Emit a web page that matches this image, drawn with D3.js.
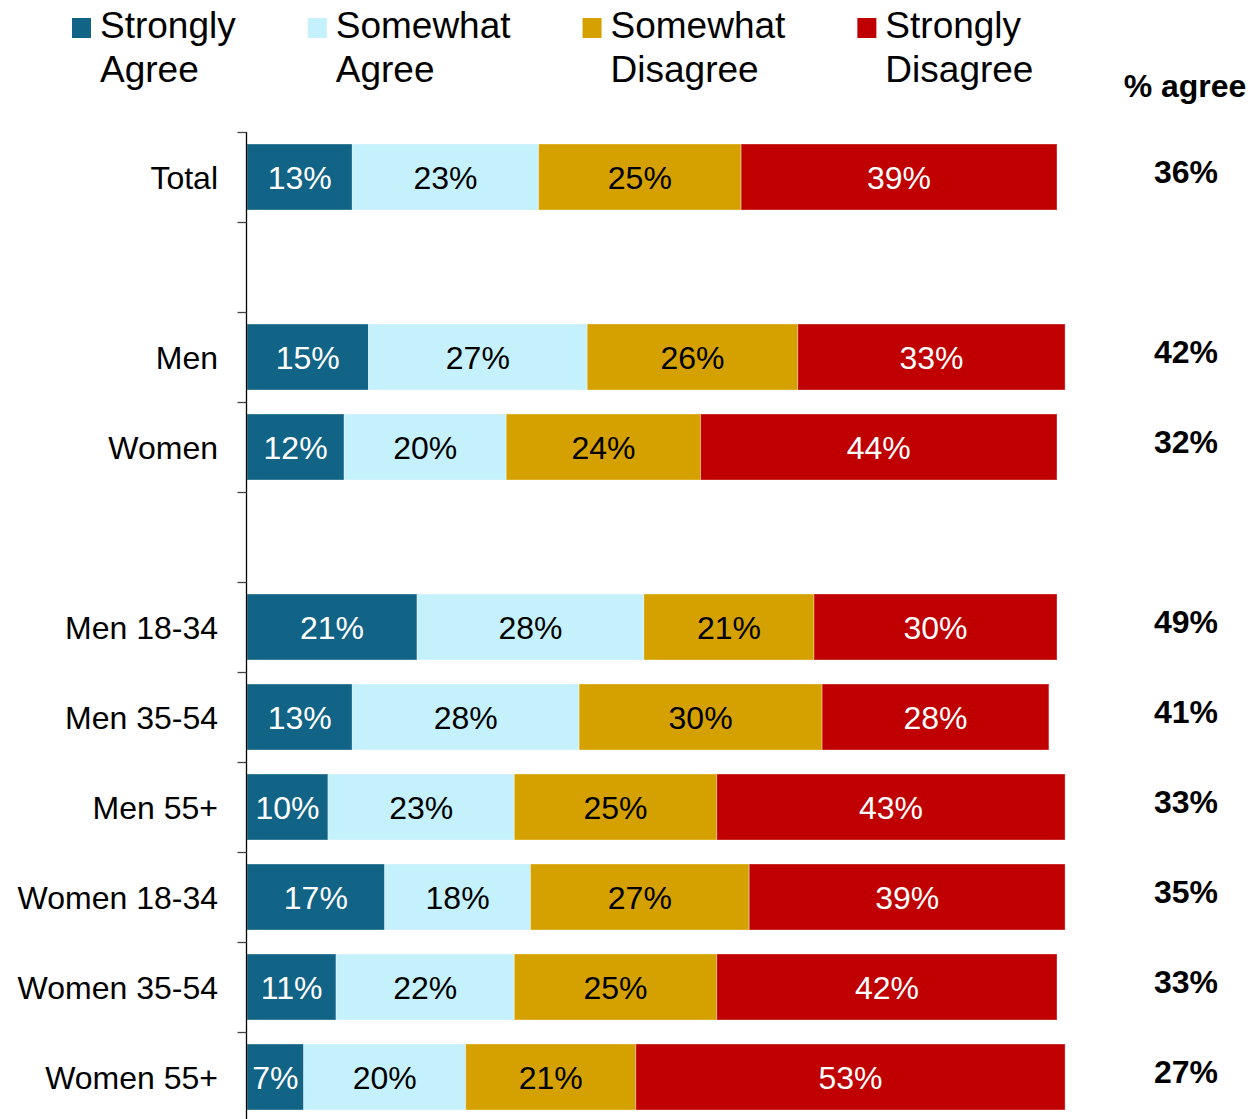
<!DOCTYPE html>
<html>
<head>
<meta charset="utf-8">
<script src="https://cdn.jsdelivr.net/npm/d3@7"></script>
<style>
  html, body { margin: 0; padding: 0; background: #fff; }
  svg { display: block; font-family: "Liberation Sans", Arial, sans-serif; }
</style>
</head>
<body>
<svg id="chart" width="1253" height="1119"></svg>
<script>
// ---- data ----
const categories = ["Total", "", "Men", "Women", " ", "Men 18-34", "Men 35-54", "Men 55+", "Women 18-34", "Women 35-54", "Women 55+"];
const seriesNames = ["Strongly Agree", "Somewhat Agree", "Somewhat Disagree", "Strongly Disagree"];
const legendLines = [["Strongly", "Agree"], ["Somewhat", "Agree"], ["Somewhat", "Disagree"], ["Strongly", "Disagree"]];
const groups = ["Total", "Men", "Women", "Men 18-34", "Men 35-54", "Men 55+", "Women 18-34", "Women 35-54", "Women 55+"];
const stronglyAgree    = [13, 15, 12, 21, 13, 10, 17, 11, 7];
const somewhatAgree    = [23, 27, 20, 28, 28, 23, 18, 22, 20];
const somewhatDisagree = [25, 26, 24, 21, 30, 25, 27, 25, 21];
const stronglyDisagree = [39, 33, 44, 30, 28, 43, 39, 42, 53];
const pctAgree         = [36, 42, 32, 49, 41, 33, 35, 33, 27];
const colors = ["#126486", "#C5F1FC", "#D4A100", "#C00000"];
const textColors = ["#ffffff", "#000000", "#000000", "#ffffff"];

// ---- layout ----
const svg = d3.select("#chart");
const W = 1253, H = 1119;
const plotLeft = 247, plotRight = 1057, plotTop = 132, plotBottom = 1122;

const y = d3.scaleBand()
  .domain(categories)
  .range([plotTop, plotBottom])
  .paddingInner(0.2667)
  .paddingOuter(0.13335);
const x = d3.scaleLinear().domain([0, 100]).range([plotLeft, plotRight]);

const rows = groups.map((g, i) => ({
  group: g,
  values: [stronglyAgree[i], somewhatAgree[i], somewhatDisagree[i], stronglyDisagree[i]],
  agree: pctAgree[i]
}));

const segs = [];
rows.forEach(r => {
  let cum = 0;
  r.values.forEach((v, k) => {
    segs.push({ group: r.group, k, x0: cum, x1: cum + v, v });
    cum += v;
  });
});

// bars
svg.append("g").selectAll("rect").data(segs).join("rect")
  .attr("x", d => x(d.x0))
  .attr("y", d => y(d.group))
  .attr("width", d => x(d.x1) - x(d.x0))
  .attr("height", y.bandwidth())
  .attr("fill", d => colors[d.k])
  .attr("stroke", "rgba(255,255,255,0.35)")
  .attr("stroke-width", 1);

// bar labels
svg.append("g").selectAll("text").data(segs).join("text")
  .attr("x", d => (x(d.x0) + x(d.x1)) / 2)
  .attr("y", d => y(d.group) + y.bandwidth() / 2 + 11.5)
  .attr("text-anchor", "middle")
  .attr("font-size", 32)
  .attr("fill", d => textColors[d.k])
  .text(d => d.v + "%");

// axis line and ticks at band boundaries
const step = y.step();
const axisX = plotLeft - 0.5;
const ax = svg.append("g");
ax.append("line")
  .attr("x1", axisX).attr("x2", axisX)
  .attr("y1", plotTop).attr("y2", H)
  .attr("stroke", "#000").attr("stroke-width", 1.3);
ax.selectAll("line.tick").data(categories).join("line")
  .attr("class", "tick")
  .attr("x1", axisX - 9).attr("x2", axisX)
  .attr("y1", d => Math.round(y(d) - step * y.paddingInner() / 2) + 0.5)
  .attr("y2", d => Math.round(y(d) - step * y.paddingInner() / 2) + 0.5)
  .attr("stroke", "#444").attr("stroke-width", 1.3);

// category labels
svg.append("g").selectAll("text").data(categories.filter(c => c.trim() !== "")).join("text")
  .attr("x", 218)
  .attr("y", d => y(d) + y.bandwidth() / 2 + 11.5)
  .attr("text-anchor", "end")
  .attr("font-size", 32)
  .attr("fill", "#000")
  .text(d => d);

// % agree column
svg.append("text")
  .attr("x", 1185).attr("y", 97)
  .attr("text-anchor", "middle")
  .attr("font-size", 32).attr("font-weight", "bold")
  .text("% agree");
svg.append("g").selectAll("text").data(rows).join("text")
  .attr("x", 1186)
  .attr("y", d => y(d.group) + y.bandwidth() / 2 + 6)
  .attr("text-anchor", "middle")
  .attr("font-size", 32).attr("font-weight", "bold")
  .text(d => d.agree + "%");

// legend
const legend = svg.append("g");
let lx = 72;
legendLines.forEach((lines, i) => {
  const g = legend.append("g").attr("transform", `translate(${lx},0)`);
  g.append("rect").attr("x", 0).attr("y", 18).attr("width", 19).attr("height", 20).attr("fill", colors[i]);
  const t = g.append("text").attr("font-size", 37).attr("fill", "#000");
  lines.forEach((ln, j) => {
    t.append("tspan").attr("x", 28).attr("y", 38 + j * 44).text(ln);
  });
  let maxW = 0;
  t.selectAll("tspan").each(function () { maxW = Math.max(maxW, this.getComputedTextLength()); });
  lx += 28 + maxW + 72;
});
</script>
</body>
</html>
